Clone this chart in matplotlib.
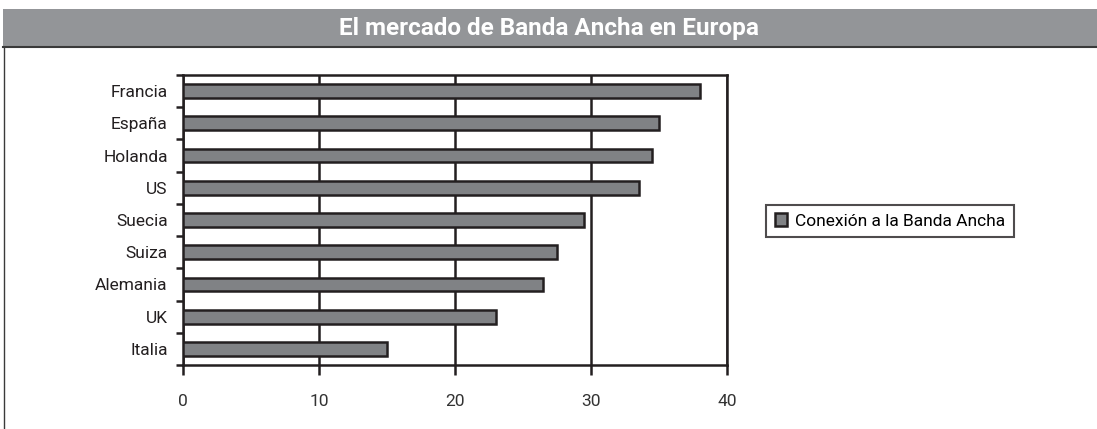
import numpy as np
import matplotlib.pyplot as plt
from matplotlib.patches import Rectangle
from matplotlib.lines import Line2D

plt.rcParams['font.family'] = ['Roboto', 'DejaVu Sans']

# data, top to bottom as in the chart
paises = ['Francia', 'España', 'Holanda', 'US', 'Suecia', 'Suiza', 'Alemania', 'UK', 'Italia']
conexion = [38, 35, 34.5, 33.5, 29.5, 27.5, 26.5, 23, 15]
xticks = [0, 10, 20, 30, 40]
serie = 'Conexión a la Banda Ancha'
titulo = 'El mercado de Banda Ancha en Europa'

W, H = 1097, 429
fig = plt.figure(figsize=(W / 100, H / 100), dpi=100)

# title banner
fig.patches.append(Rectangle((3 / W, 1 - 47 / H), 1 - 3 / W, 38 / H,
                             transform=fig.transFigure, facecolor='#939598',
                             edgecolor='none', zorder=0))
fig.lines.append(Line2D([3 / W, 1], [1 - 47 / H, 1 - 47 / H], transform=fig.transFigure,
                        color='#3a3a3a', lw=1.5))
fig.lines.append(Line2D([3.5 / W, 3.5 / W], [0, 1 - 47 / H], transform=fig.transFigure,
                        color='#3a3a3a', lw=1.0))
fig.text(0.5, 1 - 28 / H, titulo, ha='center', va='center', color='white',
         fontsize=17.5, fontweight='bold')

ax = fig.add_axes([183 / W, 64 / H, 544 / W, 290 / H])
y = np.arange(len(paises))
ax.barh(y, conexion, height=0.43, color='#808285', edgecolor='#231f20', linewidth=1.8,
        label=serie, zorder=3)
ax.set_xlim(0, 40)
ax.set_ylim(len(paises) - 0.5, -0.5)
ax.set_xticks(xticks)
ax.set_xticklabels([str(v) for v in xticks])
ax.set_yticks(y)
ax.set_yticklabels(paises)
ax.set_yticks(np.arange(-0.5, len(paises)), minor=True)
ax.tick_params(axis='y', which='major', length=0, pad=11, labelsize=12.5, labelcolor='#231f20')
ax.tick_params(axis='y', which='minor', length=5, width=1.8, direction='out', color='#231f20')
ax.tick_params(axis='x', length=7, width=1.8, direction='out', pad=14, labelsize=12.5,
               color='#231f20', labelcolor='#333333')
ax.xaxis.grid(True, color='#231f20', lw=1.8, zorder=1)
ax.set_axisbelow(True)
for s in ax.spines.values():
    s.set_linewidth(1.8)
    s.set_color('#231f20')

leg = fig.legend(loc='center', bbox_to_anchor=(890 / W, 1 - 221 / H), fontsize=12.5,
                 frameon=True, fancybox=False, edgecolor='#231f20',
                 handlelength=0.7, handleheight=0.7, handletextpad=0.5, borderpad=0.5)
leg.get_frame().set_linewidth(1.5)

fig.savefig('out.png', dpi=100)
